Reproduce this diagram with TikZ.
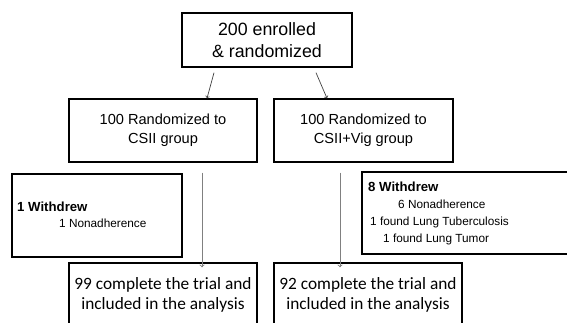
\documentclass[tikz,border=0pt]{standalone}
\usepackage{fontspec}
\setmainfont{Liberation Sans}
\newfontfamily\calibri{Carlito}
\usetikzlibrary{positioning}
\tikzset{
  box/.style={draw, line width=1.4pt, inner sep=0pt, align=center},
  txt/.style={inner sep=0pt, anchor=base west},
  flow/.style={->, line width=0.7pt, color=black!75},
  flowgray/.style={->, line width=0.9pt, color=black!50}
}
\begin{document}
\begin{tikzpicture}[x=1pt, y=-1pt]
  \clip (0,0) rectangle (567,322);
  \useasboundingbox (0,0) rectangle (567,322);
  % boxes
  \node[box, minimum width=170pt, minimum height=54pt,
        font=\fontsize{17.8}{22}\selectfont] (enrol) at (267,40)
        {200 enrolled\\ \& randomized};
  \node[box, minimum width=188pt, minimum height=63pt,
        font=\fontsize{14.6}{19}\selectfont] (csii) at (163,130.5)
        {100 Randomized to\\ CSII group};
  \node[box, minimum width=179pt, minimum height=63pt,
        font=\fontsize{14.6}{19}\selectfont] (vig) at (363.5,130.5)
        {100 Randomized to\\ CSII+Vig group};
  \node[box, minimum width=170pt, minimum height=83pt] (wdl) at (97,215.5) {};
  \node[box, minimum width=213pt, minimum height=82pt] (wdr) at (468.5,213) {};
  \node[box, minimum width=188pt, minimum height=64pt,
        font=\calibri\fontsize{17.3}{20}\selectfont] (donel) at (163,295)
        {99 complete the trial and\\ included in the analysis};
  \node[box, minimum width=188pt, minimum height=64pt,
        font=\calibri\fontsize{17.3}{20}\selectfont] (doner) at (368,295)
        {92 complete the trial and\\ included in the analysis};
  % withdrawal texts
  \begin{scope}[every node/.style={txt, font=\fontsize{11.8}{14}\selectfont}]
    \node[font=\bfseries\fontsize{13.2}{15}\selectfont] (wdl1) at (17,211) {1 Withdrew};
    \node (wdl2) at (59,227) {1 Nonadherence};
    \node[font=\bfseries\fontsize{13.2}{15}\selectfont] (wdr1) at (368,191) {8 Withdrew};
    \node (wdr2) at (398,208) {6 Nonadherence};
    \node (wdr3) at (370,225) {1 found Lung Tuberculosis};
    \node (wdr4) at (383,242) {1 found Lung Tumor};
  \end{scope}
  % arrows
  \draw[flow] ([xshift=-53pt,yshift=-5pt]enrol.south) -- ([xshift=44pt]csii.north);
  \draw[flow] ([xshift=49pt,yshift=-5pt]enrol.south) -- ([xshift=-36.5pt]vig.north);
  \draw[flowgray] ([xshift=39pt,yshift=-10pt]csii.south) -- ([xshift=39pt,yshift=-5pt]donel.north);
  \draw[flowgray] ([xshift=-23.5pt,yshift=-10pt]vig.south) -- ([xshift=-28pt,yshift=-5pt]doner.north);
\end{tikzpicture}
\end{document}
